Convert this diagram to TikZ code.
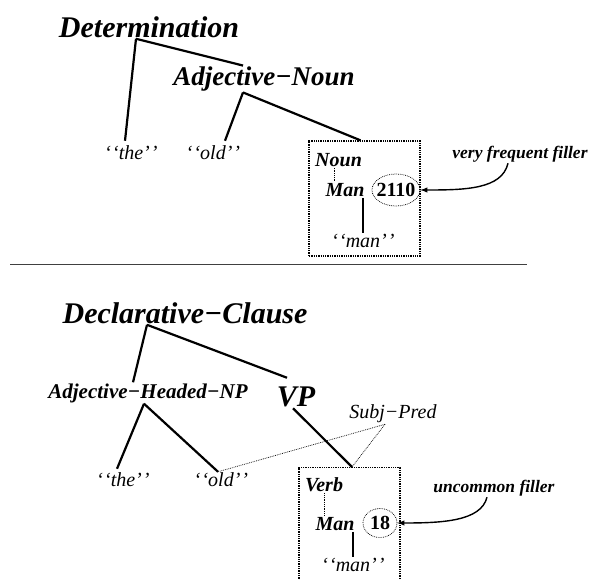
\documentclass[tikz,border=0pt]{standalone}
\usepackage{fontspec}
\setmainfont{Liberation Serif}
\usepackage{tikz}
\usetikzlibrary{calc, shapes.geometric, positioning}

\newcommand{\quoted}[1]{‘\kern1pt‘#1’\kern1pt’}

\begin{document}
\begin{tikzpicture}[>=latex, x=1pt, y=-1pt,
    big cat/.style={font=\fontsize{30}{30}\selectfont\bfseries\itshape, inner sep=1pt},
    cat/.style={font=\fontsize{27}{27}\selectfont\bfseries\itshape, inner sep=1pt},
    mid cat/.style={font=\fontsize{21}{21}\selectfont\bfseries\itshape, inner sep=1pt},
    small cat/.style={font=\fontsize{20}{20}\selectfont\bfseries\itshape, inner sep=1pt},
    word/.style={font=\fontsize{20}{20}\selectfont\itshape, inner sep=1pt},
    rel/.style={font=\fontsize{20}{20}\selectfont\itshape, inner sep=1pt},
    note/.style={font=\fontsize{17.5}{17.5}\selectfont\bfseries\itshape, inner sep=1pt},
    count/.style={ellipse, draw, line width=0.7pt, dash pattern=on 0.8pt off 1pt,
        inner ysep=0pt, font=\fontsize{20}{20}\selectfont\bfseries},
    filler box/.style={draw, line width=1.3pt, dash pattern=on 1.3pt off 1pt, inner sep=0pt},
    branch/.style={line width=2.2pt},
    link/.style={line width=0.7pt, dash pattern=on 0.8pt off 1pt},
    filler arrow/.style={->, line width=1.4pt}]
    \useasboundingbox (0,0) rectangle (591,580);

    % Cay tren: Determination
    \node[big cat] (det) at (149,27) {Determination};
    \node[cat] (adjn) at (264,79) {Adjective−Noun};
    \node[word] (the1) at (131,153) {\quoted{the}};
    \node[word] (old1) at (213,153) {\quoted{old}};
    \node[filler box, minimum width=111pt, minimum height=115pt] (box1) at (364.5,198.5) {};
    \node[small cat, anchor=west] (noun) at (314,160) {Noun};
    \node[small cat] (man1) at (345,190) {Man};
    \node[count, inner xsep=-4pt, minimum width=48pt, minimum height=32pt] (num1) at (396,190) {2110};
    \node[word] (word1) at (363,241) {\quoted{man}};
    \node[note] (lab1) at (520,154) {very frequent filler};

    \draw[branch] ([xshift=-13pt]det.south) -- ([xshift=-6pt,yshift=4pt]the1.north);
    \draw[branch] ([xshift=-13pt]det.south) -- ([xshift=-21pt]adjn.north);
    \draw[branch] ([xshift=-21pt]adjn.south) -- ([xshift=12pt,yshift=4pt]old1.north);
    \draw[branch] ([xshift=-21pt]adjn.south) -- ([xshift=-4pt]box1.north);
    \draw[link] ([xshift=-4pt]noun.south) -- ([xshift=-4pt]noun.south |- man1.north);
    \draw[branch] (man1.south -| word1.north) -- (word1.north);
    \draw[filler arrow] ([xshift=-12pt]lab1.south) .. controls +(-6,26) and +(45,0) .. (num1.east);

    % Duong phan cach
    \draw[line width=1pt, black!75] (10,264) -- (527,264);

    % Cay duoi: Declarative-Clause
    \node[big cat] (decl) at (185,313) {Declarative−Clause};
    \node[mid cat] (ahnp) at (148,393) {Adjective−Headed−NP};
    \node[big cat] (vp) at (296,397) {VP};
    \node[word] (the2) at (123,480) {\quoted{the}};
    \node[word] (old2) at (221,480) {\quoted{old}};
    \node[rel] (subj) at (393,414) {Subj−Pred};
    \node[filler box, minimum width=101pt, minimum height=130pt, anchor=north] (box2) at (349.5,467) {};
    \node[small cat, anchor=west] (verb) at (304,485) {Verb};
    \node[small cat] (man2) at (335,524) {Man};
    \node[count, inner xsep=0pt, minimum width=34pt, minimum height=29pt] (num2) at (380,523) {18};
    \node[word] (word2) at (353,565) {\quoted{man}};
    \node[note] (lab2) at (494,488) {uncommon filler};

    \draw[branch] ([xshift=-38pt]decl.south) -- ([xshift=-15pt]ahnp.north);
    \draw[branch] ([xshift=-38pt]decl.south) -- ([xshift=-9pt,yshift=8pt]vp.north);
    \draw[branch] ([xshift=-4pt]ahnp.south) -- ([xshift=-6pt,yshift=3pt]the2.north);
    \draw[branch] ([xshift=-4pt]ahnp.south) -- ([xshift=-3pt]old2.north);
    \draw[branch] ([xshift=-3pt]vp.south) -- ([xshift=2.5pt]box2.north);
    \draw[link] ([xshift=-8pt]subj.south) -- ([xshift=2.5pt]box2.north);
    \draw[link] ([xshift=-8pt]subj.south) -- ([xshift=-3pt]old2.north);
    \draw[link] (verb.south) -- (verb.south |- man2.north);
    \draw[branch] (man2.south -| word2.north) -- (word2.north);
    \draw[filler arrow] ([xshift=-7pt]lab2.south) .. controls +(-6,24) and +(45,0) .. (num2.east);
\end{tikzpicture}
\end{document}
